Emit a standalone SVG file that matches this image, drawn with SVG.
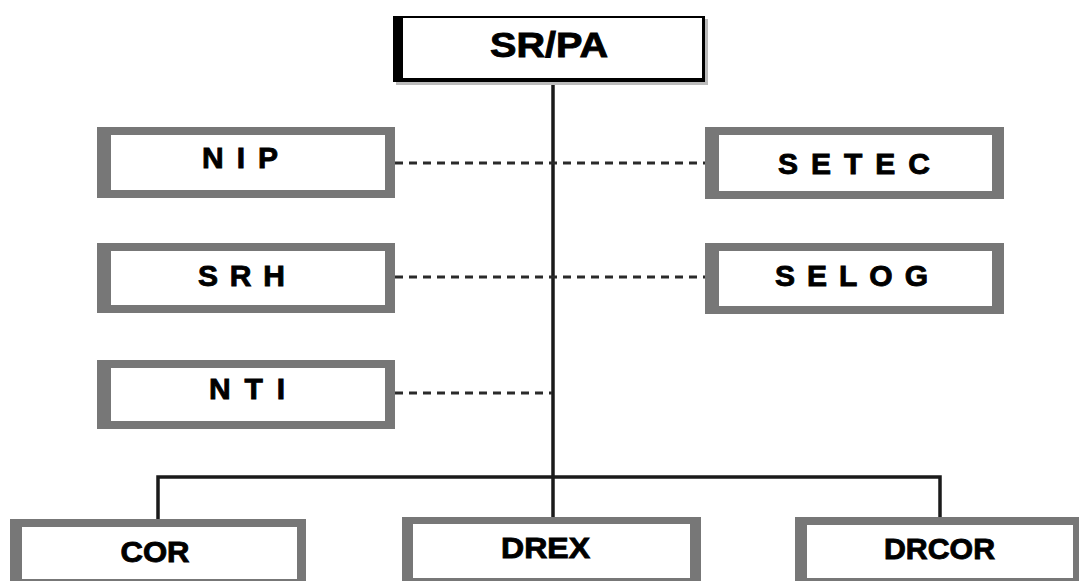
<svg xmlns="http://www.w3.org/2000/svg" width="1079" height="581" viewBox="0 0 1079 581">
<style>
.frame{fill:#777777}
.inner{fill:#ffffff}
.lbl{font-family:"Liberation Sans",Arial,sans-serif;font-weight:bold;font-size:30px;fill:#000;stroke:#000;stroke-width:0.9;text-anchor:middle}
.solid{stroke:#1a1a1a;stroke-width:3.5;fill:none}
.dash{stroke:#2a2a2a;stroke-width:3;stroke-dasharray:8 6;fill:none}
</style>
<rect width="1079" height="581" fill="#fff"/>
<g id="connectors">
<line class="solid" x1="553" y1="82" x2="553" y2="518"/>
<polyline class="solid" points="158,520 158,477 940,477 940,518"/>
<line class="dash" x1="395" y1="163" x2="705" y2="163"/>
<line class="dash" x1="395" y1="277" x2="705" y2="277"/>
<line class="dash" x1="395" y1="393" x2="552" y2="393"/>
</g>
<g id="srpa">
<rect x="396" y="19" width="312" height="66" fill="#bbb"/>
<rect x="393" y="16" width="312" height="66" fill="#000"/>
<rect class="inner" x="403" y="18" width="299" height="60"/>
<text class="lbl" x="549" y="57" style="font-size:35px" textLength="118" lengthAdjust="spacingAndGlyphs">SR/PA</text>
</g>
<g id="nip">
<rect class="frame" x="97" y="127" width="298" height="71"/>
<rect class="inner" x="111" y="135" width="274" height="55"/>
<text class="lbl" x="240" y="168" textLength="76" lengthAdjust="spacing">NIP</text>
</g>
<g id="srh">
<rect class="frame" x="97" y="243" width="298" height="70"/>
<rect class="inner" x="111" y="251" width="274" height="54"/>
<text class="lbl" x="241.5" y="286" textLength="87" lengthAdjust="spacing">SRH</text>
</g>
<g id="nti">
<rect class="frame" x="97" y="360" width="298" height="69"/>
<rect class="inner" x="111" y="368" width="274" height="53"/>
<text class="lbl" x="247" y="399" textLength="76" lengthAdjust="spacing">NTI</text>
</g>
<g id="setec">
<rect class="frame" x="705" y="127" width="299" height="72"/>
<rect class="inner" x="719" y="135" width="273" height="56"/>
<text class="lbl" x="854" y="174" textLength="152" lengthAdjust="spacing">SETEC</text>
</g>
<g id="selog">
<rect class="frame" x="705" y="243" width="299" height="71"/>
<rect class="inner" x="719" y="251" width="273" height="55"/>
<text class="lbl" x="851.5" y="286" textLength="153" lengthAdjust="spacing">SELOG</text>
</g>
<g id="cor">
<rect class="frame" x="10" y="519" width="296" height="66"/>
<rect class="inner" x="22" y="527" width="275" height="52"/>
<text class="lbl" x="155" y="562" textLength="69" lengthAdjust="spacingAndGlyphs">COR</text>
</g>
<g id="drex">
<rect class="frame" x="402" y="517" width="299" height="68"/>
<rect class="inner" x="413" y="524" width="277" height="54"/>
<text class="lbl" x="545.5" y="558" textLength="89" lengthAdjust="spacingAndGlyphs">DREX</text>
</g>
<g id="drcor">
<rect class="frame" x="795" y="517" width="284" height="68"/>
<rect class="inner" x="807" y="525" width="266" height="53"/>
<text class="lbl" x="939.5" y="559" textLength="111" lengthAdjust="spacingAndGlyphs">DRCOR</text>
</g>
</svg>
